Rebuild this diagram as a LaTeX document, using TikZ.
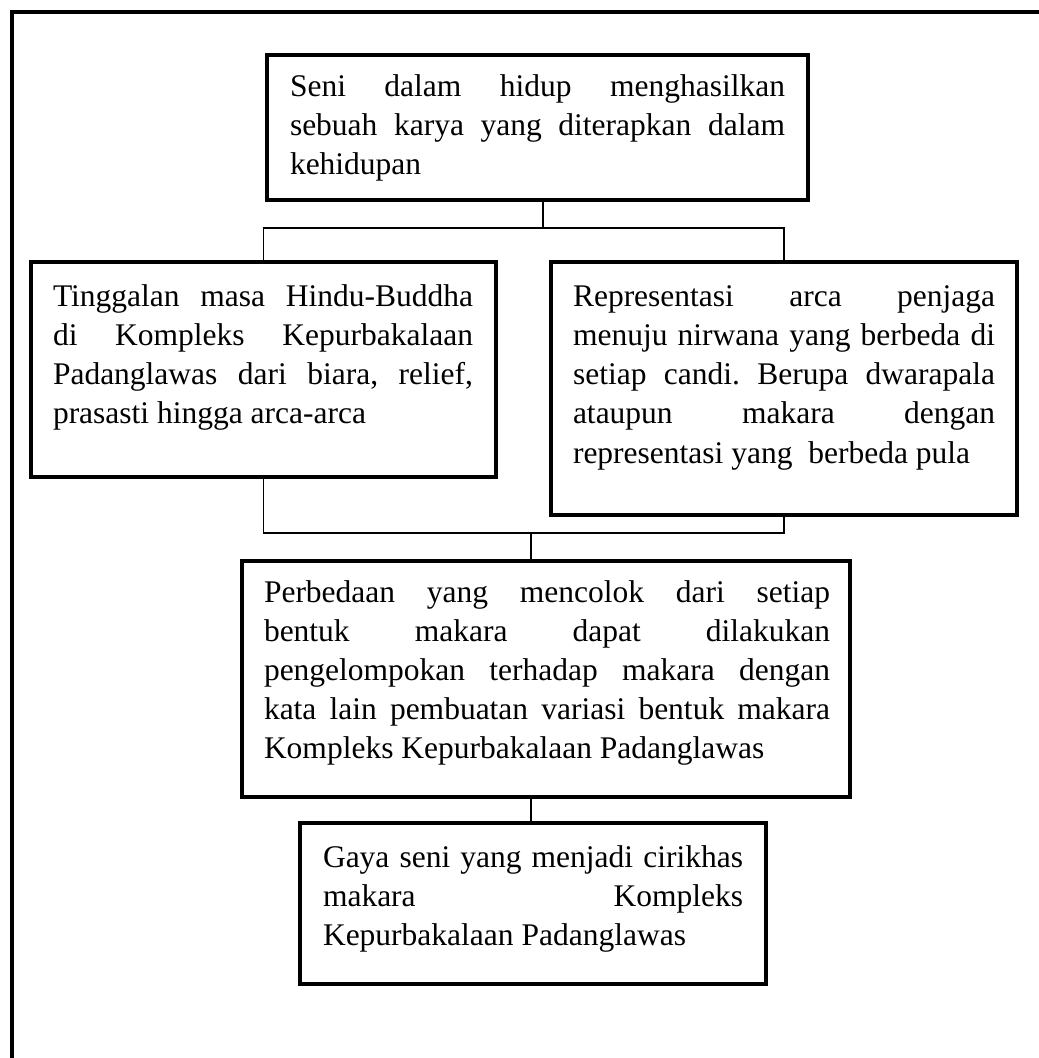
\documentclass[tikz,border=0pt]{standalone}
\usepackage{fontspec}
\setmainfont{Liberation Serif}
\frenchspacing
\newcommand{\JLine}[1]{\makebox[\linewidth][s]{#1}}
\tikzset{
  boxframe/.style={draw, line width=2.2pt, rectangle, inner sep=0pt, outer sep=0pt, anchor=north west},
  txt/.style={inner sep=0pt, outer sep=0pt, anchor=base west, font=\fontsize{15.75}{19.5}\selectfont},
  link/.style={line width=0.8pt},
  border/.style={line width=2.2pt}
}
\begin{document}
\begin{tikzpicture}[x=0.5pt, y=-0.5pt]
\useasboundingbox (0,0) rectangle (1038,1058);
\fill[white] (0,0) rectangle (1038,1058);
% outer frame (cut off at right and bottom)
\draw[border] (12,1080) -- (12,12) -- (1060,12);

% boxes
\node[boxframe, minimum width=270.5pt, minimum height=72.5pt] (b1) at (267,55) {};
\node[boxframe, minimum width=232.5pt, minimum height=107.5pt] (b2) at (31,262) {};
\node[boxframe, minimum width=233pt, minimum height=126.5pt] (b3) at (551,262) {};
\node[boxframe, minimum width=304pt, minimum height=118pt] (b4) at (242,561) {};
\node[boxframe, minimum width=233pt, minimum height=80.5pt] (b5) at (300,823) {};

% texts
\node[txt] (t1) at (290,97) {\parbox[t]{247.5pt}{%
\JLine{Seni dalam hidup menghasilkan}\\
\JLine{sebuah karya yang diterapkan dalam}\\
kehidupan}};
\node[txt] (t2) at (53,307) {\parbox[t]{210pt}{%
\JLine{Tinggalan masa Hindu-Buddha}\\
\JLine{di Kompleks Kepurbakalaan}\\
\JLine{Padanglawas dari biara, relief,}\\
prasasti hingga arca-arca}};
\node[txt] (t3) at (573,307) {\parbox[t]{211pt}{%
\JLine{Representasi arca penjaga}\\
\JLine{menuju nirwana yang berbeda di}\\
\JLine{setiap candi. Berupa dwarapala}\\
\JLine{ataupun makara dengan}\\
representasi yang \ berbeda pula}};
\node[txt] (t4) at (264,602) {\parbox[t]{283pt}{%
\JLine{Perbedaan yang mencolok dari setiap}\\
\JLine{bentuk makara dapat dilakukan}\\
\JLine{pengelompokan terhadap makara dengan}\\
\JLine{kata lain pembuatan variasi bentuk makara}\\
Kompleks Kepurbakalaan Padanglawas}};
\node[txt] (t5) at (323,867) {\parbox[t]{210pt}{%
\JLine{Gaya seni yang menjadi cirikhas}\\
\JLine{makara Kompleks}\\
Kepurbakalaan Padanglawas}};

% connectors
\coordinate (j1) at (543,228);
\coordinate (j2) at (531,533);
\draw[link] (b1.south -| j1) -- (j1);
\draw[link] (b2.north) -- (b2.north |- j1) -- (b3.north |- j1) -- (b3.north);
\draw[link] (b2.south) -- (b2.south |- j2) -- (b3.south |- j2) -- (b3.south);
\draw[link] (j2) -- (b4.north -| j2);
\draw[link] (b4.south -| j2) -- (b5.north -| j2);
\end{tikzpicture}
\end{document}
